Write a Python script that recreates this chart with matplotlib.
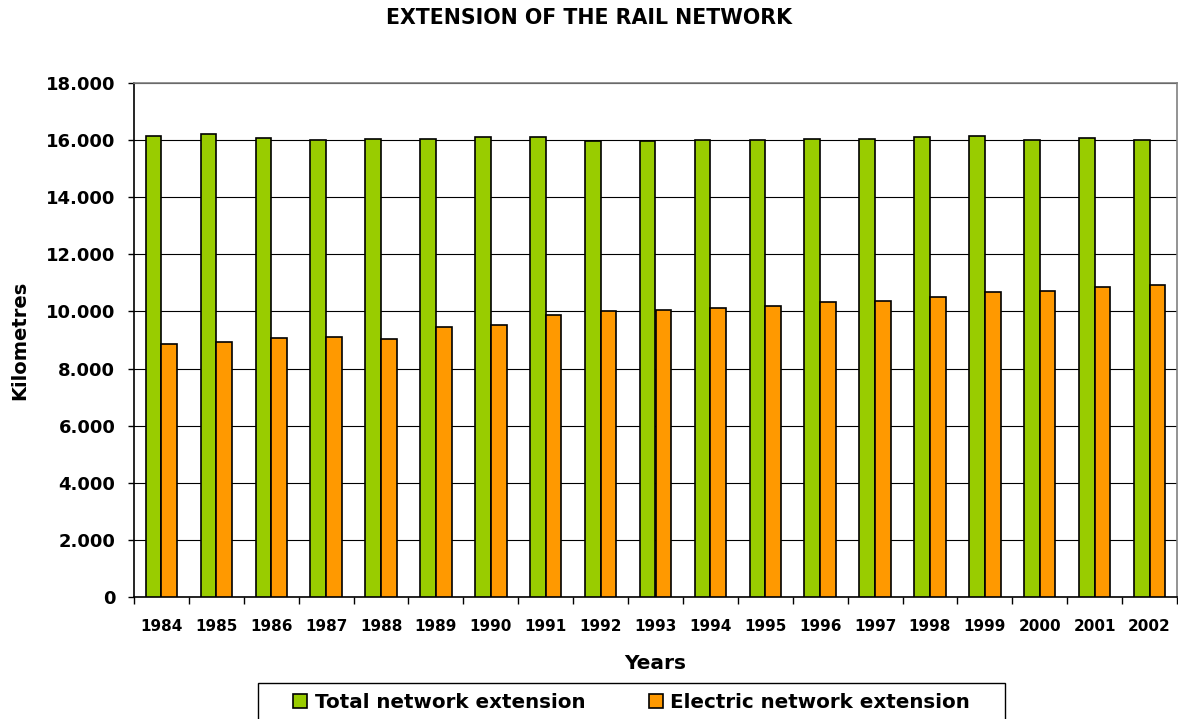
import matplotlib
matplotlib.use("Agg")
import matplotlib.pyplot as plt
import numpy as np
from matplotlib.ticker import FuncFormatter
from matplotlib.patches import Patch, Rectangle

years = ["1984", "1985", "1986", "1987", "1988", "1989", "1990", "1991", "1992", "1993",
         "1994", "1995", "1996", "1997", "1998", "1999", "2000", "2001", "2002"]
total_km = [16130, 16200, 16060, 15990, 16035, 16047, 16094, 16090, 15965, 15950,
            16010, 16010, 16035, 16047, 16117, 16130, 15988, 16058, 16000]
electric_km = [8877, 8947, 9064, 9100, 9018, 9450, 9509, 9860, 10012, 10047,
               10129, 10187, 10327, 10363, 10491, 10667, 10725, 10865, 10912]

plt.rcParams['font.family'] = ['DejaVu Sans']
plt.rcParams['font.weight'] = 'bold'

green = "#99CC00"
orange = "#FF9900"

W, H = 1178, 719
fig = plt.figure(figsize=(W / 100, H / 100), dpi=100)
ax = fig.add_axes([134 / W, 1 - 597.3 / H, (1177 - 134) / W, (597.3 - 82.7) / H])

x = np.arange(len(years))
w = 0.286
ax.bar(x - w / 2, total_km, width=w, color=green, edgecolor="black", linewidth=1.2, zorder=3)
ax.bar(x + w / 2, electric_km, width=w, color=orange, edgecolor="black", linewidth=1.2, zorder=3)

ax.set_xlim(-0.5, len(years) - 0.5)
ax.set_ylim(0, 18000)
ax.set_yticks(np.arange(0, 18001, 2000))
ax.yaxis.set_major_formatter(FuncFormatter(lambda v, p: f"{int(v):,}".replace(",", ".")))
ax.yaxis.grid(True, color="black", linewidth=0.8, zorder=0)
ax.set_axisbelow(True)

ax.set_xticks(x)
ax.set_xticklabels(years)
ax.set_xticks(np.arange(-0.5, len(years), 1.0), minor=True)
ax.tick_params(axis="x", which="major", length=0, pad=15.5, labelsize=11)
ax.tick_params(axis="x", which="minor", length=5, width=1, color="black")
ax.tick_params(axis="y", length=4.5, width=1, labelsize=13, pad=9)
for lbl in ax.get_xticklabels() + ax.get_yticklabels():
    lbl.set_fontweight("bold")

for side in ("top", "right"):
    ax.spines[side].set_color("#808080")
    ax.spines[side].set_linewidth(1.2)
for side in ("left", "bottom"):
    ax.spines[side].set_color("black")
    ax.spines[side].set_linewidth(1.2)

ax.set_xlabel("Years", fontsize=14.5, fontweight="bold", va="center")
ax.xaxis.set_label_coords(0.5, (597.3 - 663.5) / (597.3 - 82.7))
ax.set_ylabel("Kilometres", fontsize=14, fontweight="bold", va="center")
ax.yaxis.set_label_coords((20 - 134) / (1177 - 134), 0.5)

fig.text(0.5, 1 - 18 / H, "EXTENSION OF THE RAIL NETWORK", ha="center", va="center",
         fontsize=14.8, fontweight="bold")

# legend box spans the lower edge of the figure
fig.patches.append(Rectangle((258 / W, -0.02), (1005 - 258) / W, 0.02 + (719 - 683) / H,
                             transform=fig.transFigure, facecolor="white",
                             edgecolor="black", linewidth=1.0, zorder=1))
handles = [Patch(facecolor=green, edgecolor="black", linewidth=1.2),
           Patch(facecolor=orange, edgecolor="black", linewidth=1.2)]
leg = fig.legend(handles, ["Total network extension", "Electric network extension"],
                 loc="center", bbox_to_anchor=(631.5 / W, 1 - 702 / H), ncol=2,
                 fontsize=14.3, frameon=False,
                 handlelength=0.7, handleheight=0.7, handletextpad=0.4,
                 columnspacing=3.2, borderpad=0.0)
leg.set_zorder(2)
for t in leg.get_texts():
    t.set_fontweight("bold")

fig.savefig("out.png", dpi=100)
